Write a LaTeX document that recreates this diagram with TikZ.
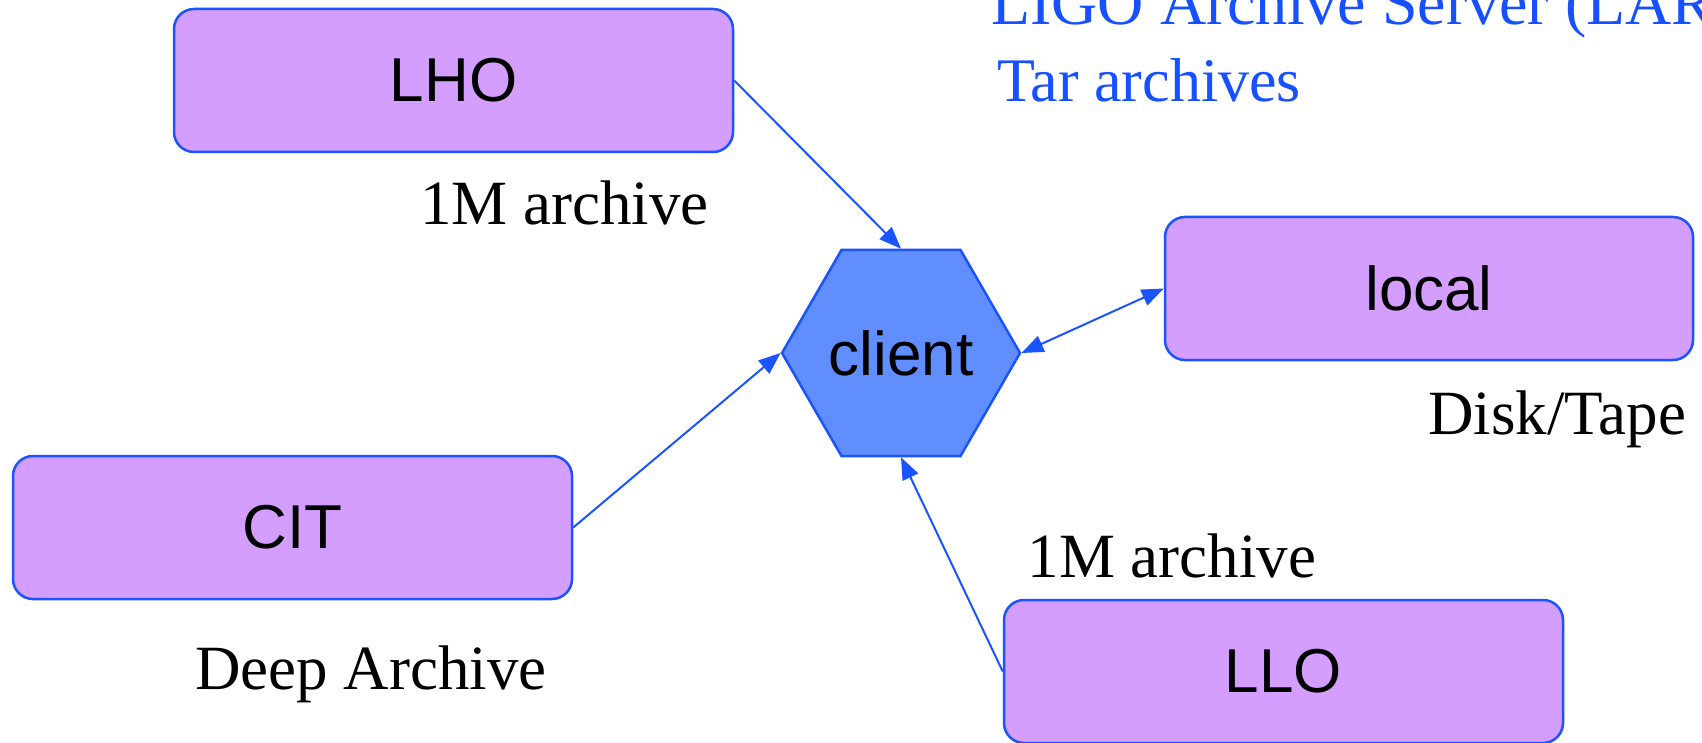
\documentclass[tikz,border=0pt]{standalone}
\usepackage{fontspec}
\setmainfont{Liberation Serif}
\newfontfamily\boxfont{Liberation Sans}
\usetikzlibrary{shapes.geometric,arrows.meta}
\definecolor{boxfill}{RGB}{212,158,254}
\definecolor{edgeblue}{RGB}{26,84,255}
\definecolor{hexfill}{RGB}{96,142,255}
\definecolor{titleblue}{RGB}{22,80,255}
\begin{document}
\begin{tikzpicture}[x=1pt,y=-1pt,
  site/.style={draw=edgeblue, line width=2.5pt, fill=boxfill, rounded corners=20pt,
    minimum width=559pt, minimum height=143pt, inner sep=0pt,
    font=\boxfont\fontsize{62}{70}\selectfont},
  hub/.style={regular polygon, regular polygon sides=6, minimum size=238pt,
    draw=edgeblue, line width=2.5pt, fill=hexfill, inner sep=0pt,
    font=\boxfont\fontsize{62}{70}\selectfont},
  tip/.tip={Triangle[length=22pt,width=17pt]},
  conn/.style={draw=edgeblue, line width=2pt, -tip},
  lbl/.style={font=\fontsize{63}{70}\selectfont, inner sep=0pt, anchor=base},
  ttl/.style={font=\fontsize{62}{70}\selectfont, inner sep=0pt, anchor=base west, text=titleblue}]
\useasboundingbox (0,0) rectangle (1702,743);
\clip (0,0) rectangle (1702,743);
\fill[white] (0,0) rectangle (1702,743);
% nodes
\node[site] (LHO) at (453.5,80.5) {LHO};
\node[site] (CIT) at (292.5,527.5) {CIT};
\node[site, minimum width=528pt] (local) at (1429,288.5) {local};
\node[site] (LLO) at (1283.5,671.5) {LLO};
\node[hub] (client) at (901,353) {client};
% labels
\node[lbl] (lholbl) at (564.5,225) {1M archive};
\node[lbl] (citlbl) at (371,689) {Deep Archive};
\node[lbl] (locallbl) at (1557,434) {Disk/Tape};
\node[lbl] (llolbl) at (1172,577) {1M archive};
\node[ttl, font=\fontsize{64}{70}\selectfont] (title1) at (991,25) {LIGO Archive Server (LARS)};
\node[ttl] (title2) at (997,102) {Tar archives};
% connectors
\draw[conn] (LHO.east) -- (client.north);
\draw[conn] (CIT.east) -- (client.west);
\draw[conn] (LLO.west) -- (client.south);
\draw[conn, tip-tip] (client.east) -- (local.west);
\end{tikzpicture}
\end{document}
